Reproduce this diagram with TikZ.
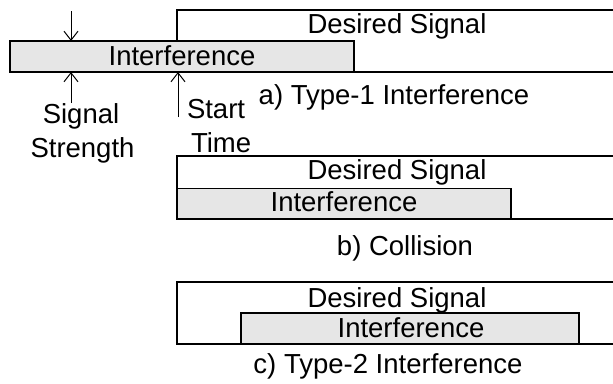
\documentclass[tikz,border=0pt]{standalone}
\usepackage{fontspec}
\setmainfont{Liberation Sans}
\usetikzlibrary{arrows.meta}
\definecolor{ifill}{RGB}{230,230,230}
\begin{document}
\begin{tikzpicture}[x=1pt,y=-1pt,
  every node/.style={inner sep=0pt,outer sep=0pt,font=\fontsize{27.5}{33}\selectfont},
  area/.style={draw=none,minimum width=#1},
  ibox/.style={draw=black,line width=1.2pt,fill=ifill},
  dline/.style={draw=black,line width=1.2pt},
  txt/.style={anchor=base},
  arr/.style={line width=1pt,-{Straight Barb[length=9pt,width=14pt,line width=1pt]}}]
\useasboundingbox (0,0) rectangle (613,383);
% panel a
\node[area=436,minimum height=62] (da) at (395,41) {};
\draw[dline] (da.north east) -- (da.north west) -- (da.south west) -- (da.south east);
\node[ibox,minimum width=344,minimum height=31] (ia) at (182,56.5) {};
\node[txt] (tda) at (397,33) {Desired Signal};
\node[txt] (tia) at (182,65) {Interference};
\node[txt] (capa) at (394,104) {a) Type-1 Interference};
\node[txt] (sig) at (81,123) {Signal};
\node[txt] (str) at (82.5,157) {Strength};
\node[txt,anchor=base west] (sta) at (187,118) {Start};
\node[txt,anchor=base west] (tim) at (191,152) {Time};
\coordinate (dtop) at (71,11);
\coordinate (ssb) at (71,103);
\coordinate (stb) at (178,117);
\draw[arr] (dtop) -- (dtop |- ia.north);
\draw[arr] (ssb) -- (ssb |- ia.south);
\draw[arr] (stb) -- (stb |- ia.south);
% panel b
\node[area=436,minimum height=63] (db) at (395,187.5) {};
\draw[dline] (db.north east) -- (db.north west) -- (db.south west) -- (db.south east);
\node[ibox,minimum width=334,minimum height=30] (ib) at (344,203.5) {};
\node[txt] (tdb) at (397,179) {Desired Signal};
\node[txt] (tib) at (344,211) {Interference};
\node[txt] (capb) at (405,255) {b) Collision};
% panel c
\node[area=436,minimum height=62] (dc) at (395,313) {};
\draw[dline] (dc.north east) -- (dc.north west) -- (dc.south west) -- (dc.south east);
\node[ibox,minimum width=338,minimum height=31] (ic) at (410,328.5) {};
\node[txt] (tdc) at (397,307) {Desired Signal};
\node[txt] (tic) at (411,337) {Interference};
\node[txt] (capc) at (388,373) {c) Type-2 Interference};
\end{tikzpicture}
\end{document}
